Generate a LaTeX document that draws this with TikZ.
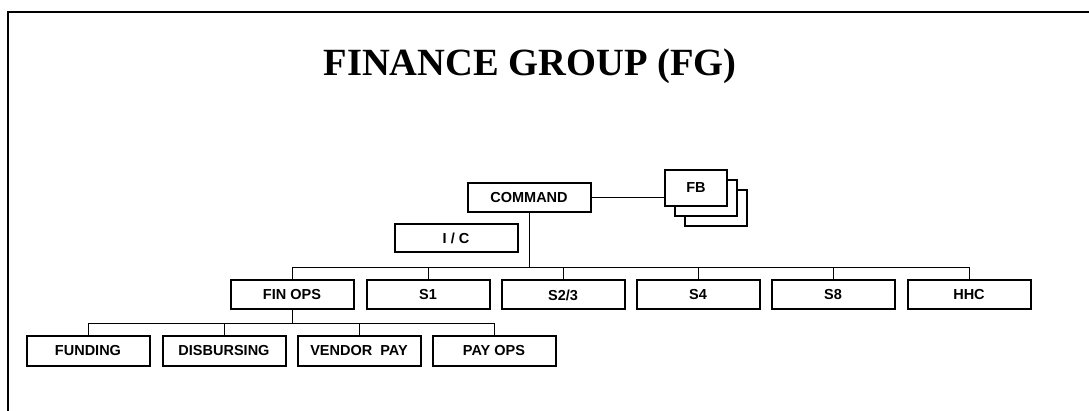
\documentclass[tikz,border=0pt]{standalone}
\usepackage{fontspec}
\setmainfont{Liberation Serif}
\setsansfont{Liberation Sans}
\usetikzlibrary{positioning}

\tikzset{
	unit/.style={draw, line width=2pt, minimum width=123pt, minimum height=29pt, inner sep=0pt,
		font=\sffamily\bfseries\fontsize{14.5}{15}\selectfont},
	link/.style={line width=0.9pt},
}

\begin{document}
\begin{tikzpicture}[x=1pt, y=-1pt]
	\useasboundingbox (0,0) rectangle (1089,411);
	\draw[line width=2.6pt] (8,411)--(8,12)--(1089,12);
	\node[anchor=base, font=\rmfamily\bfseries\fontsize{38.5}{40}\selectfont] (title) at (530,76) {FINANCE GROUP (FG)};

	% top of the chart
	\node[unit] (cmd) at (529,197.5) {COMMAND};
	\node[unit, minimum width=62pt, minimum height=36pt, fill=white] (fb3) at (716,208) {};
	\node[unit, minimum width=62pt, minimum height=36pt, fill=white] (fb2) at (706,198) {};
	\node[unit, minimum width=62pt, minimum height=36pt, fill=white] (fb) at (696,188) {FB};
	\node[unit, minimum height=28pt] (ic) at (456,238) {I / C};
	\draw[link] (cmd.east)--(cmd.east -| fb.west);

	% staff row
	\coordinate (bus) at (0,267);
	\node[unit] (finops) at (292,295) {FIN OPS};
	\node[unit] (s1) at (428,295) {S1};
	\node[unit] (s23) at (563,295) {S2/3};
	\node[unit] (s4) at (698,295) {S4};
	\node[unit] (s8) at (833,295) {S8};
	\node[unit] (hhc) at (969,295) {HHC};
	\draw[link] (cmd.south)--(cmd.south |- bus);
	\draw[link] (finops.north |- bus)--(hhc.north |- bus);
	\foreach \u in {finops,s1,s23,s4,s8,hhc}
		\draw[link] (\u.north)--(\u.north |- bus);

	% fin ops row
	\coordinate (subbus) at (0,323);
	\node[unit] (funding) at (88,351) {FUNDING};
	\node[unit] (disb) at (224,351) {DISBURSING};
	\node[unit] (vendor) at (359,351) {VENDOR\ \ PAY};
	\node[unit] (payops) at (494,351) {PAY OPS};
	\draw[link] (finops.south)--(finops.south |- subbus);
	\draw[link] (funding.north |- subbus)--(payops.north |- subbus);
	\foreach \u in {funding,disb,vendor,payops}
		\draw[link] (\u.north)--(\u.north |- subbus);
\end{tikzpicture}
\end{document}
